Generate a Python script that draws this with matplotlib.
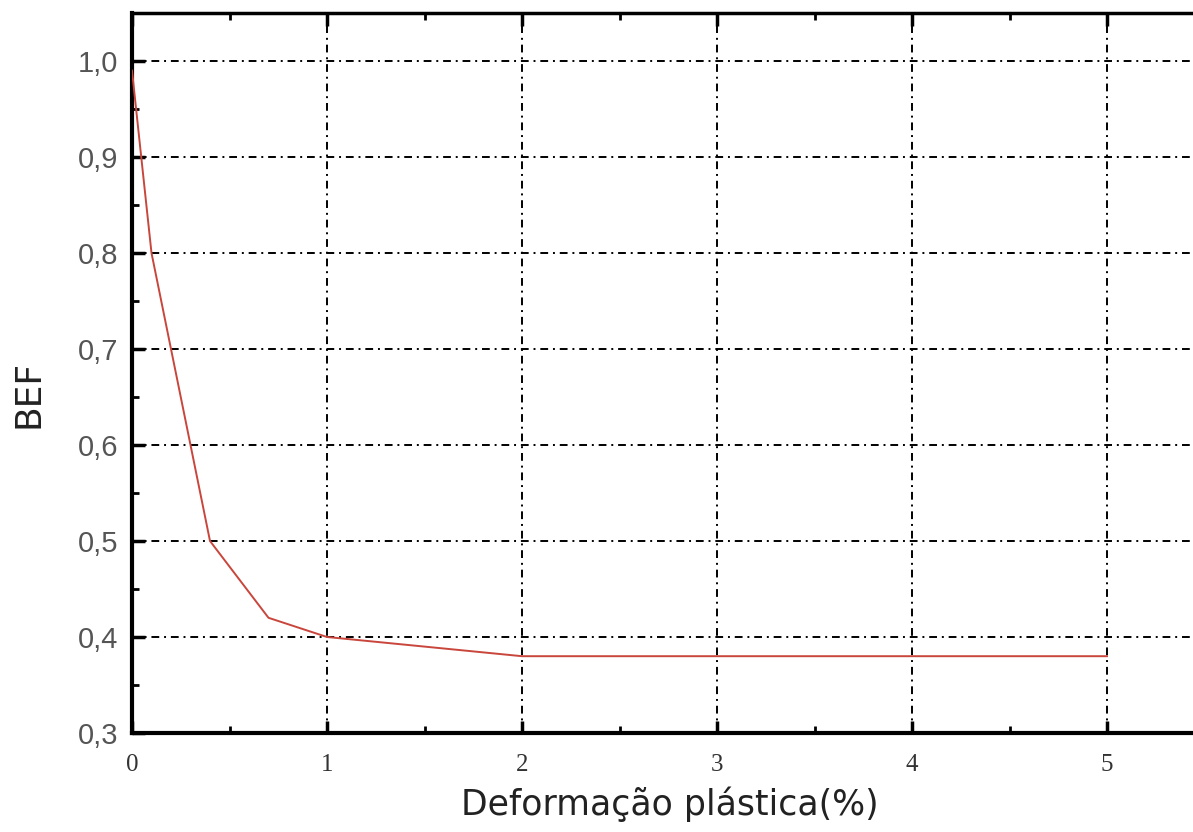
import matplotlib
matplotlib.use("Agg")
import matplotlib.pyplot as plt
from matplotlib.ticker import MultipleLocator, FixedLocator

# Data
deformacao = [0.0, 0.1, 0.4, 0.7, 1.0, 2.0, 5.0]
bef = [0.99, 0.80, 0.50, 0.42, 0.40, 0.38, 0.38]

x_ticks = [0, 1, 2, 3, 4, 5]
x_tick_labels = ["0", "1", "2", "3", "4", "5"]
y_ticks = [0.3, 0.4, 0.5, 0.6, 0.7, 0.8, 0.9, 1.0]
y_tick_labels = ["0,3", "0,4", "0,5", "0,6", "0,7", "0,8", "0,9", "1,0"]

W, H = 1193, 832
fig = plt.figure(figsize=(W/100, H/100), dpi=100)
ax = fig.add_axes([132/W, 1 - 733/H, 5.5*195/W, 720/H])

ax.plot(deformacao, bef, color="#c8463c", linewidth=1.4, zorder=3)

ax.set_xlim(0, 5.5)
ax.set_ylim(0.3, 1.05)

ax.xaxis.set_major_locator(FixedLocator(x_ticks))
ax.set_xticklabels(x_tick_labels, family="Liberation Serif", fontsize=18, color="#333333")
ax.xaxis.set_minor_locator(MultipleLocator(0.5))
ax.yaxis.set_major_locator(FixedLocator(y_ticks))
ax.set_yticklabels(y_tick_labels, family="Liberation Sans", fontsize=21, color="#555555")
ax.yaxis.set_minor_locator(MultipleLocator(0.05))

ax.tick_params(which="major", direction="in", length=9, width=2.5, top=True, right=False)
ax.tick_params(which="minor", direction="in", length=5, width=2, top=True, right=False)
ax.tick_params(axis="x", which="major", pad=15)
ax.tick_params(axis="y", which="major", pad=10)

for s in ["left", "bottom"]:
    ax.spines[s].set_linewidth(3)
ax.spines["top"].set_linewidth(2.5)
ax.spines["right"].set_linewidth(2.5)

ax.grid(True, which="major", color="black", linewidth=1.4, linestyle=(0, (4, 2.5, 1, 2.5)))

fig.text(670/W, 1 - 815/H, "Deformação plástica(%)", family="DejaVu Sans", fontsize=25,
         color="#222222", ha="center", va="baseline")
fig.text(29/W, 1 - 394/H, "BEF", family="DejaVu Sans", fontsize=26, color="#222222",
         ha="center", va="center", rotation=90)

fig.savefig("out.png", dpi=100)
